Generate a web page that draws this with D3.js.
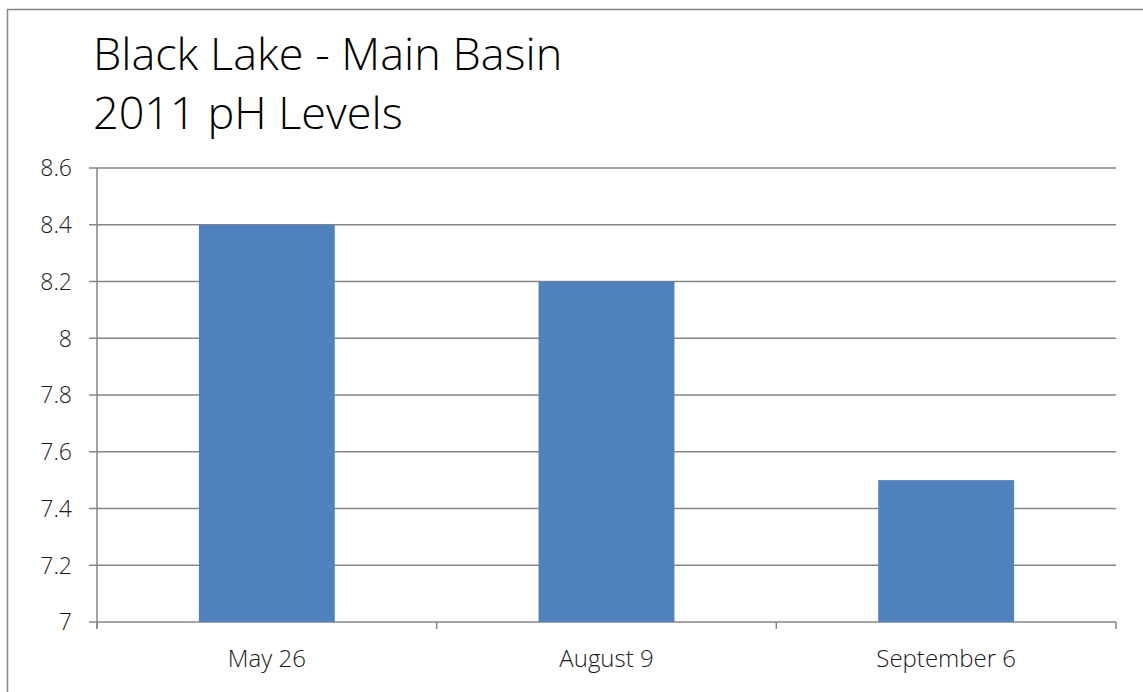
<!DOCTYPE html>
<html><head><meta charset="utf-8">
<script src="https://cdn.jsdelivr.net/npm/d3@7"></script>
<style>body{margin:0;background:#fff}svg{display:block}</style>
</head><body>
<svg id="c" width="1143" height="692"></svg>
<script>
const categories = ["May 26", "August 9", "September 6"];
const phValues = [8.4, 8.2, 7.5];
const yTicks = [7, 7.2, 7.4, 7.6, 7.8, 8, 8.2, 8.4, 8.6];
const titleLines = ["Black Lake - Main Basin", "2011 pH Levels"];

const svg = d3.select("#c");
const gray = "#868686";
const font = "'Open Sans', sans-serif";

svg.append("rect").attr("x", 7.5).attr("y", 9.5).attr("width", 1150).attr("height", 700)
  .attr("fill", "#fff").attr("stroke", gray).attr("stroke-width", 1.5);

const x = d3.scaleBand().domain(categories).range([97, 1116]).paddingInner(0.6).paddingOuter(0.3);
const y = d3.scaleLinear().domain([7, 8.6]).range([622, 168]);

// gridlines
svg.append("g").selectAll("line").data(yTicks).join("line")
  .attr("x1", 89).attr("x2", 1116).attr("y1", d => y(d)).attr("y2", d => y(d))
  .attr("stroke", gray).attr("stroke-width", 1.5);

// bars
svg.append("g").selectAll("rect").data(phValues).join("rect")
  .attr("x", (d, i) => x(categories[i])).attr("width", x.bandwidth())
  .attr("y", d => y(d)).attr("height", d => y(7) - y(d))
  .attr("fill", "#4F81BD");

// y axis line
svg.append("line").attr("x1", 97).attr("x2", 97).attr("y1", 168).attr("y2", 629)
  .attr("stroke", gray).attr("stroke-width", 1.5);
// x axis category boundary ticks
const bounds = [97, ...categories.map(c => x(c) - x.step() * x.paddingInner() / 2 + x.step())];
svg.append("g").selectAll("line").data(bounds).join("line")
  .attr("x1", d => d).attr("x2", d => d).attr("y1", 622).attr("y2", 629)
  .attr("stroke", gray).attr("stroke-width", 1.5);

// y tick labels
svg.append("g").selectAll("text").data(yTicks).join("text")
  .attr("x", 72).attr("y", d => y(d)).attr("dy", "0.36em").attr("text-anchor", "end")
  .attr("font-family", font).attr("font-size", 23).attr("font-weight", 300).attr("fill", "#1a1a1a")
  .text(d => d3.format("~g")(d));

// x labels
svg.append("g").selectAll("text").data(categories).join("text")
  .attr("x", d => x(d) + x.bandwidth() / 2).attr("y", 667).attr("text-anchor", "middle")
  .attr("font-family", font).attr("font-size", 24).attr("font-weight", 300).attr("fill", "#1a1a1a")
  .text(d => d);

// title
svg.append("g").selectAll("text").data(titleLines).join("text")
  .attr("x", 93).attr("y", (d, i) => 70 + i * 59)
  .attr("font-family", font).attr("font-size", 45).attr("font-weight", 300).attr("fill", "#000")
  .text(d => d);
</script>
</body></html>
